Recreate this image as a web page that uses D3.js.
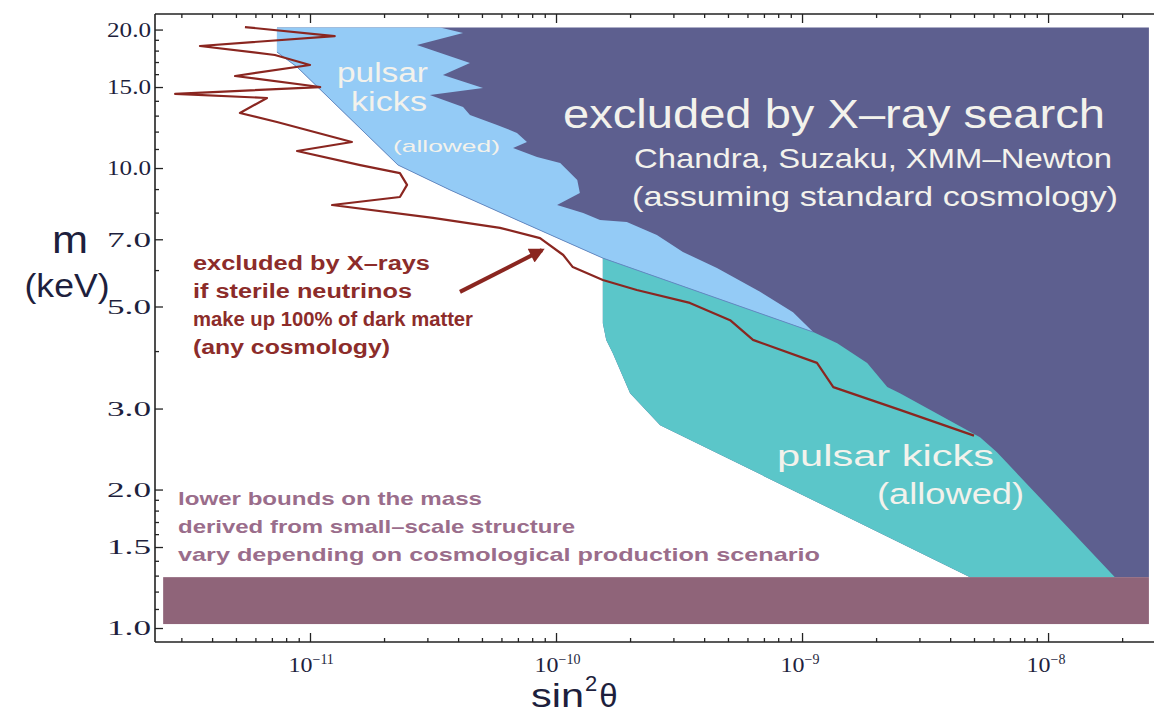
<!DOCTYPE html>
<html>
<head>
<meta charset="utf-8">
<script src="https://cdn.jsdelivr.net/npm/d3@7"></script>
<style>
  html, body { margin: 0; padding: 0; background: #fff; }
  svg { display: block; }
</style>
</head>
<body>
<svg id="chart" width="1154" height="714"></svg>
<script>
// Sterile-neutrino parameter space: mixing angle sin^2(theta) vs mass m (keV)

// Jagged edge of the X-ray exclusion region, top to bottom  [sin2theta, m]
const xrayEdge = [
  [3.38e-11, 20.2], [4.19e-11, 19.66], [2.72e-11, 18.51], [4.47e-11, 16.92],
  [3.47e-11, 15.93], [5.05e-11, 14.93], [3.07e-11, 14.41], [4.19e-11, 13.57],
  [4.47e-11, 13.04], [5.76e-11, 12.41], [6.94e-11, 11.92], [7.62e-11, 11.39],
  [6.69e-11, 11.05], [8.37e-11, 10.57], [1.04e-10, 10.25], [1.22e-10, 9.42],
  [1.25e-10, 8.83], [1.01e-10, 8.31], [1.29e-10, 7.98], [1.51e-10, 7.71],
  [1.94e-10, 7.63], [2.57e-10, 7.15], [3.28e-10, 6.57], [4.51e-10, 6.06],
  [6.75e-10, 5.38], [9.19e-10, 4.86], [1.11e-9, 4.40]
];

// Lower-left edge of the upper pulsar-kick band, top to tip
const kickEdge = [
  [7.34e-12, 20.2], [7.34e-12, 17.87], [8.86e-12, 16.58], [2.28e-11, 10.15],
  [3.71e-11, 8.96], [6.94e-11, 7.71], [1.55e-10, 6.37], [1.11e-9, 4.40]
];

// Lower pulsar-kick band: left edge (top to bottom) and right edge (tip to bottom)
const tealLeftEdge = [
  [1.55e-10, 6.37], [1.55e-10, 4.60], [1.60e-10, 4.23], [1.70e-10, 3.96],
  [2.00e-10, 3.24], [2.65e-10, 2.76], [4.82e-9, 1.29]
];
const tealRightEdge = [
  [1.11e-9, 4.40], [1.39e-9, 4.16], [1.84e-9, 3.77], [2.22e-9, 3.34],
  [2.50e-9, 3.24], [5.29e-9, 2.60], [6.20e-9, 2.41], [1.87e-8, 1.29]
];

// X-ray bound if sterile neutrinos are all of the dark matter
const dmLine = [
  [5.44e-12, 20.25], [1.26e-11, 19.36], [3.57e-12, 18.42], [7.20e-12, 17.61],
  [1.00e-11, 16.75], [4.96e-12, 15.85], [1.10e-11, 15.0], [2.83e-12, 14.49],
  [6.69e-12, 14.2], [5.19e-12, 13.17], [7.34e-12, 12.59], [1.48e-11, 11.39],
  [8.86e-12, 10.89], [1.60e-11, 10.15], [2.32e-11, 9.75], [2.48e-11, 9.19],
  [2.32e-11, 8.65], [1.23e-11, 8.31], [3.16e-11, 7.79], [5.92e-11, 7.41],
  [8.61e-11, 7.04], [1.07e-10, 6.47], [1.17e-10, 6.09], [1.55e-10, 5.71],
  [2.13e-10, 5.43], [3.50e-10, 5.09], [5.10e-10, 4.67], [6.32e-10, 4.23],
  [1.15e-9, 3.77], [1.34e-9, 3.34], [2.50e-9, 2.98], [5.0e-9, 2.62]
];

// Structure-formation lower bound band
const bandSin2 = [2.53e-12, 2.57e-8];
const bandMass = [1.02, 1.29];
const regionTop = 20.2;
const regionRight = 2.57e-8;

// Arrow pointing at the dark-matter line
const arrowTail = [4.07e-11, 5.38];
const arrowHead = [8.77e-11, 6.63];

// Axis ticks
const xMajor = [1e-11, 1e-10, 1e-9, 1e-8];
const xExp = [-11, -10, -9, -8];
const xMinor = [];
for (let e = -12; e <= -8; e++) for (let k = 2; k <= 9; k++) xMinor.push(k * Math.pow(10, e));
const yMajor = [1.0, 1.5, 2.0, 3.0, 5.0, 7.0, 10.0, 15.0, 20.0];
const yMinor = [1.1, 1.2, 1.3, 1.4, 1.6, 1.7, 1.8, 1.9, 4, 6, 8, 9, 11, 12, 13, 14, 16, 17, 18, 19];

const svg = d3.select("#chart");
const pLeft = 155, pRight = 1160, pTop = 14, pBottom = 642;

const x = d3.scaleLog().domain([Math.pow(10, -11.630), Math.pow(10, -7.545)]).range([pLeft, pRight]);
const y = d3.scaleLog().domain([0.9324, 21.62]).range([pBottom, pTop]);

const pt = d => [x(d[0]), y(d[1])];
const line = d3.line().x(d => x(d[0])).y(d => y(d[1]));

svg.append("clipPath").attr("id", "clip")
  .append("rect").attr("x", pLeft).attr("y", pTop).attr("width", 1154 - pLeft).attr("height", pBottom - pTop);
const plot = svg.append("g").attr("clip-path", "url(#clip)");

// Excluded region envelope (everything right of the allowed/white area)
const envelope = [
  [kickEdge[0][0], regionTop], [regionRight, regionTop], [regionRight, bandMass[1]],
  ...tealLeftEdge.slice().reverse(),
  ...kickEdge.slice(0, 7).reverse()
];
plot.append("path").attr("d", line(envelope) + "Z").attr("fill", "#5d5f8f");

// Lower pulsar-kick band
const kickTail = kickEdge.slice(6);
const tealPoly = [
  ...kickTail, ...tealRightEdge.slice(1),
  [tealLeftEdge[tealLeftEdge.length - 1][0], bandMass[1]],
  ...tealLeftEdge.slice().reverse().slice(1)
];
plot.append("path").attr("d", line(tealPoly) + "Z").attr("fill", "#5bc6c9");

// Upper pulsar-kick band
const bluePoly = [
  [kickEdge[0][0], regionTop], [xrayEdge[0][0], regionTop],
  ...xrayEdge,
  ...kickEdge.slice().reverse().slice(1)
];
plot.append("path").attr("d", line(bluePoly) + "Z").attr("fill", "#94cbf6");
plot.append("path").attr("d", line(kickEdge.slice(1)))
  .attr("fill", "none").attr("stroke", "#5f86bf").attr("stroke-width", 0.9);

// Lower-bound band
plot.append("rect")
  .attr("x", x(bandSin2[0])).attr("width", x(bandSin2[1]) - x(bandSin2[0]))
  .attr("y", y(bandMass[1])).attr("height", y(bandMass[0]) - y(bandMass[1]))
  .attr("fill", "#8f6479");

// Dark-matter X-ray line
plot.append("path").attr("d", line(dmLine))
  .attr("fill", "none").attr("stroke", "#8a2620").attr("stroke-width", 2.2)
  .attr("stroke-linejoin", "round");

// Arrow
const defs = svg.append("defs");
defs.append("marker").attr("id", "ah").attr("viewBox", "0 0 10 10")
  .attr("refX", 8).attr("refY", 5).attr("markerWidth", 4.6).attr("markerHeight", 3.8)
  .attr("orient", "auto")
  .append("path").attr("d", "M0,0 L10,5 L0,10 Z").attr("fill", "#8a2620");
const [ax0, ay0] = pt(arrowTail), [ax1, ay1] = pt(arrowHead);
svg.append("line").attr("x1", ax0).attr("y1", ay0).attr("x2", ax1).attr("y2", ay1)
  .attr("stroke", "#8a2620").attr("stroke-width", 4).attr("marker-end", "url(#ah)");

// Text helper: fixed width via textLength
function label(txt, x0, yb, size, len, opts = {}) {
  const t = svg.append("text").attr("x", x0).attr("y", yb)
    .attr("font-family", opts.family || "'Liberation Sans', Arial, sans-serif")
    .attr("font-size", size)
    .attr("font-weight", opts.weight || "normal")
    .attr("fill", opts.fill || "#f3f2ec")
    .attr("text-anchor", opts.anchor || "start")
    .text(txt);
  if (len) t.attr("textLength", len).attr("lengthAdjust", "spacingAndGlyphs");
  return t;
}

label("excluded by X\u2013ray search", 563, 128, 40, 542);
label("Chandra, Suzaku, XMM\u2013Newton", 634, 168, 28, 478);
label("(assuming standard cosmology)", 632, 206, 28, 486);
label("pulsar", 337, 82, 27, 91);
label("kicks", 351, 111, 27, 76);
label("(allowed)", 393, 152, 17, 107);
label("pulsar kicks", 777, 466, 30, 217);
label("(allowed)", 877, 504, 30, 147);

const red = { fill: "#8c2c2a", weight: "bold" };
label("excluded by X\u2013rays", 193, 270, 20, 237, red);
label("if sterile neutrinos", 193, 298, 20, 219, red);
label("make up 100% of dark matter", 193, 326, 20, 280, red);
label("(any cosmology)", 193, 354, 20, 197, red);

const mauve = { fill: "#9a6d8b", weight: "bold" };
label("lower bounds on the mass", 178, 505, 19, 304, mauve);
label("derived from small\u2013scale structure", 178, 533, 19, 397, mauve);
label("vary depending on cosmological production scenario", 178, 561, 19, 642, mauve);

// Axis titles
const ink = "#1e1f3d";
label("m", 70, 253, 38, 36, { fill: ink, anchor: "middle" });
label("(keV)", 67, 297, 34, 85, { fill: ink, anchor: "middle" });
const xt = svg.append("text").attr("x", 531).attr("y", 707)
  .attr("font-family", "'Liberation Sans', Arial, sans-serif").attr("font-size", 33).attr("fill", ink);
xt.append("tspan").attr("textLength", 53).attr("lengthAdjust", "spacingAndGlyphs").text("sin");
xt.append("tspan").attr("dy", -16).attr("dx", 1).attr("font-size", 22).text("2");
xt.append("tspan").attr("dy", 16).attr("dx", 2).text("\u03b8");

// Axes
const axisStyle = g => {
  g.select(".domain").attr("stroke", "#222").attr("stroke-width", 1.6);
  g.selectAll(".tick line").attr("stroke", "#222").attr("stroke-width", 1.3);
};

// left: ticks inward
svg.append("g").attr("transform", `translate(${pLeft},0)`)
  .call(d3.axisRight(y).tickValues(yMinor).tickSize(4).tickFormat(""))
  .call(axisStyle).select(".domain").remove();
const yAx = svg.append("g").attr("transform", `translate(${pLeft},0)`)
  .call(d3.axisRight(y).tickValues(yMajor).tickSize(8).tickSizeOuter(0).tickFormat(""))
  .call(axisStyle);
yAx.select(".domain").attr("d", `M0,${pBottom}V${pTop}`);
const yLab = svg.append("g").attr("transform", `translate(${pLeft},0)`)
  .call(d3.axisLeft(y).tickValues(yMajor).tickSize(0).tickPadding(4).tickFormat(d3.format(".1f")));
yLab.select(".domain").remove();
yLab.selectAll("text").attr("font-family", "'Liberation Serif', 'Times New Roman', serif")
  .attr("font-size", 20).attr("fill", ink).attr("dy", "0.34em")
  .attr("textLength", 44).attr("lengthAdjust", "spacingAndGlyphs");

// bottom/top: ticks pointing inward
const xMinorIn = xMinor.filter(v => v > x.domain()[0] && v < x.domain()[1]);
[[pBottom, d3.axisTop], [pTop, d3.axisBottom]].forEach(([yy, ax]) => {
  svg.append("g").attr("transform", `translate(0,${yy})`)
    .call(ax(x).tickValues(xMinorIn).tickSize(4).tickFormat(""))
    .call(axisStyle).select(".domain").remove();
  const g = svg.append("g").attr("transform", `translate(0,${yy})`)
    .call(ax(x).tickValues(xMajor).tickSize(9).tickSizeOuter(0).tickFormat(""))
    .call(axisStyle);
  g.select(".domain").attr("d", `M${pLeft},0H1154`);
});

// bottom labels: 10^n, mantissa ending at the tick
const xLab = svg.append("g").attr("transform", `translate(0,${pBottom})`)
  .call(d3.axisBottom(x).tickValues(xMajor).tickSize(0).tickFormat(""));
xLab.select(".domain").remove();
xLab.selectAll(".tick").each(function (d, i) {
  const t = d3.select(this).append("text")
    .attr("x", -22).attr("y", 30).attr("text-anchor", "start")
    .attr("font-family", "'Liberation Serif', 'Times New Roman', serif")
    .attr("fill", ink).attr("font-size", 21);
  t.append("tspan").attr("textLength", 24).attr("lengthAdjust", "spacingAndGlyphs").text("10");
  t.append("tspan").attr("dy", -8).attr("font-size", 14).text("\u2212" + (-xExp[i]));
});
</script>
</body>
</html>
